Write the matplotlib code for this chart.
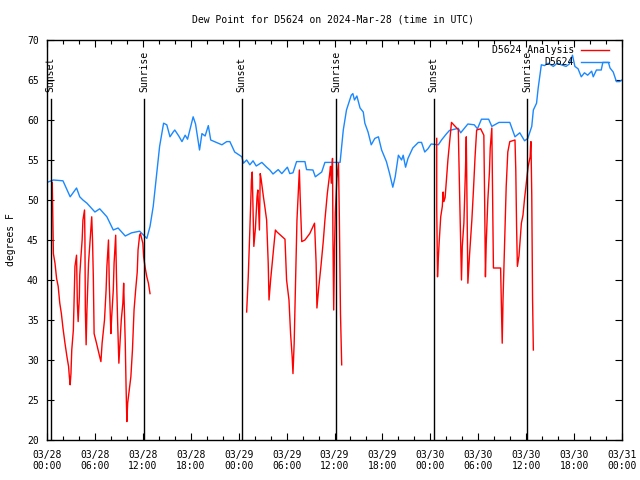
import matplotlib
matplotlib.use("Agg")
import matplotlib.pyplot as plt
from matplotlib.lines import Line2D

# Hours since 2024-03-28 00:00 UTC
obs_hours = [0.0, 0.8, 2.0, 2.9, 3.7, 4.1, 4.5, 5.0, 6.0, 6.6, 7.5, 8.3, 8.9, 9.8, 10.6, 11.6, 12.5,
             12.9, 13.3, 13.7, 14.1, 14.6, 15.0, 15.4, 15.8, 16.0, 16.5, 16.9, 17.3, 17.6, 18.3, 18.6,
             19.1, 19.4, 19.8, 20.2, 20.5, 21.2, 21.9, 22.5, 22.9, 23.5, 24.4, 24.6, 25.0, 25.4, 25.8,
             26.2, 26.9, 27.5, 27.9, 28.3, 28.95, 29.4, 30.1, 30.4, 30.8, 31.25, 32.3, 32.5, 33.3,
             33.6, 34.4, 34.8, 36.7, 37.1, 37.5, 38.1, 38.3, 38.5, 38.8, 39.2, 39.6, 39.8, 40.2, 40.6,
             41.05, 41.5, 41.9, 42.5, 42.9, 43.3, 43.6, 44.0, 44.4, 44.6, 44.9, 45.2, 45.8, 46.5,
             46.9, 47.3, 47.7, 48.1, 49.0, 49.4, 50.0, 50.4, 51.5, 51.8, 52.7, 53.5, 53.9, 54.4,
             55.3, 55.7, 56.6, 57.95, 58.6, 59.2, 59.8, 60.2, 60.7, 60.9, 61.3, 61.5, 61.9, 62.3,
             62.75, 63.4, 63.9, 64.4, 65.0, 65.4, 65.8, 66.1, 66.5, 66.9, 67.3, 67.7, 68.2, 68.4,
             68.8, 69.4, 69.6, 70.3, 70.5, 70.9, 71.3, 71.7, 72.0]
obs_dewpt = [52.2, 52.5, 52.4, 50.4, 51.5, 50.4, 50.0, 49.6, 48.5, 48.9, 47.9, 46.25, 46.5, 45.5, 45.9, 46.1, 45.2,
             46.7, 49.2, 52.9, 56.7, 59.6, 59.4, 57.9, 58.5, 58.75, 58.0, 57.3, 58.1, 57.6, 60.4, 59.5,
             56.25, 58.3, 58.0, 59.3, 57.5, 57.2, 56.9, 57.3, 57.3, 56.0, 55.4, 54.6, 55.0, 54.4, 54.9,
             54.25, 54.7, 54.1, 53.75, 53.25, 53.8, 53.3, 54.1, 53.3, 53.4, 54.8, 54.8, 53.8, 53.75,
             52.9, 53.5, 54.7, 54.7, 58.75, 61.25, 63.1, 63.3, 62.5, 63.0, 61.5, 61.0, 59.6, 58.5, 56.9,
             57.7, 57.9, 56.25, 54.8, 53.3, 51.6, 52.9, 55.6, 55.0, 55.6, 54.1, 55.2, 56.5, 57.2,
             57.2, 56.0, 56.4, 57.0, 56.9, 57.5, 58.25, 58.7, 58.96, 58.4, 59.5, 59.4, 58.9, 60.1,
             60.1, 59.2, 59.7, 59.7, 57.9, 58.4, 57.4, 57.7, 59.2, 61.25, 62.1, 63.96, 66.9, 66.8,
             67.1, 66.7, 67.1, 66.9, 66.7, 67.0, 68.1, 66.7, 66.4, 65.4, 65.9, 65.6, 66.1, 65.4,
             66.25, 66.25, 67.2, 67.2, 66.5, 66.0, 64.8, 64.8, 65.0]

an1_hours = [0.66, 0.8, 1.0, 1.2, 1.4, 1.6, 1.8, 2.0, 2.25, 2.5, 2.7, 2.8, 2.9, 3.0, 3.1, 3.3, 3.5, 3.7,
             3.8, 3.9, 4.05, 4.1, 4.25, 4.4, 4.5, 4.7, 4.75, 4.8, 4.9, 5.0, 5.2, 5.4, 5.6, 5.7, 5.8,
             5.9, 6.2, 6.4, 6.6, 6.75, 6.9, 7.2, 7.4, 7.5, 7.7, 7.8, 8.0, 8.1, 8.3, 8.4, 8.6, 8.7,
             8.85, 9.0, 9.3, 9.5, 9.6, 9.8, 9.9, 10.0, 10.1, 10.3, 10.5, 10.7, 10.9, 11.1, 11.3,
             11.4, 11.6, 11.7, 11.85, 12.0, 12.1, 12.3, 12.5, 12.7, 12.9]
an1_dewpt = [52.2, 43.3, 42.1, 40.2, 39.2, 37.1, 35.8, 34.0, 32.1, 30.4, 29.2, 27.9, 26.9, 28.3, 31.25, 33.75, 41.7, 43.1,
             37.1, 34.8, 37.9, 40.6, 42.9, 45.0, 47.5, 48.75, 45.0, 36.25, 31.9, 36.25, 42.1, 45.0, 47.9, 45.0, 40.4,
             33.3, 32.1, 31.25, 30.4, 29.8, 32.1, 35.0, 38.75, 41.7, 45.0, 39.6, 33.3, 35.4, 38.75, 42.1, 45.6, 40.4,
             34.6, 29.6, 35.0, 37.1, 39.6, 32.1, 26.7, 22.3, 24.6, 26.25, 27.9, 31.25, 36.25, 38.75, 41.0,
             43.75, 45.6, 45.8, 45.2, 44.6, 42.9, 41.5, 40.4, 39.6, 38.3]

an2_hours = [25.0, 25.2, 25.4, 25.6, 25.7, 25.8, 25.9, 26.1, 26.3, 26.4, 26.6, 26.7, 26.8, 27.1, 27.3, 27.5,
             27.7, 27.8, 28.0, 28.2, 28.4, 28.6, 28.8, 29.8, 30.0, 30.3, 30.5, 30.7, 30.8, 30.95, 31.1,
             31.3, 31.6, 31.7, 31.9, 32.3, 32.9, 33.5, 33.7, 33.8, 34.0, 34.3, 34.6, 34.8, 35.1, 35.4,
             35.5, 35.6, 35.75, 35.8, 35.9, 36.0, 36.1, 36.3, 36.5, 36.6, 36.75, 36.9]
an2_dewpt = [36.0, 40.4, 46.25, 52.5, 53.5, 48.8, 44.2, 46.5, 50.4, 51.25, 46.25, 53.3, 52.7, 50.4, 49.0, 47.5,
             42.1, 37.5, 40.0, 42.1, 44.2, 46.25, 46.0, 45.1, 40.0, 37.5, 33.3, 30.4, 28.3, 32.1, 38.75,
             47.5, 53.75, 50.4, 44.8, 45.0, 45.8, 47.1, 42.1, 36.5, 38.8, 41.7, 44.9, 47.5, 50.8, 53.3,
             54.2, 52.1, 55.2, 45.8, 36.25, 44.0, 48.4, 52.7, 54.6, 48.3, 35.8, 29.4]

an3_hours = [48.8, 48.8, 48.9, 49.0, 49.1, 49.3, 49.5, 49.6, 49.7, 49.85, 50.0, 50.2, 50.4, 50.65, 51.3,
             51.5, 51.7, 51.9, 52.0, 52.2, 52.4, 52.5, 52.6, 52.7, 52.9, 53.2, 53.4, 53.6, 53.8, 54.3,
             54.7, 54.8, 54.9, 55.0, 55.2, 55.4, 55.5, 55.7, 55.9, 56.8, 56.9, 57.0, 57.1, 57.3, 57.5,
             57.7, 57.95, 58.6, 58.7, 58.8, 58.9, 59.1, 59.4, 59.6, 59.8, 59.95, 60.1, 60.25, 60.5,
             60.55, 60.6, 60.7, 60.8, 60.9]
an3_dewpt = [57.7, 49.0, 40.4, 42.7, 44.6, 47.9, 49.2, 51.0, 49.8, 50.3, 52.3, 55.0, 57.1, 59.7, 59.0,
             58.8, 49.2, 40.0, 44.2, 47.1, 53.75, 57.9, 49.0, 39.6, 43.0, 47.5, 51.25, 55.4, 58.75, 58.9,
             58.1, 50.0, 40.4, 44.6, 50.0, 53.5, 56.5, 59.0, 41.5, 41.5, 36.7, 32.1, 37.5, 44.6, 51.7,
             56.0, 57.3, 57.5, 53.75, 46.7, 41.7, 43.0, 47.1, 48.1, 50.2, 51.5, 52.9, 54.2, 55.4,
             56.7, 57.3, 50.6, 37.7, 31.25]

sun_hours = [0.46, 12.17, 24.4, 36.2, 48.4, 60.1]
sun_labels = ["Sunset", "Sunrise", "Sunset", "Sunrise", "Sunset", "Sunrise"]
sun_line_top = 62.6

xtick_hours = [0, 6, 12, 18, 24, 30, 36, 42, 48, 54, 60, 66, 72]
xtick_labels = ["03/28\n00:00", "03/28\n06:00", "03/28\n12:00", "03/28\n18:00",
                "03/29\n00:00", "03/29\n06:00", "03/29\n12:00", "03/29\n18:00",
                "03/30\n00:00", "03/30\n06:00", "03/30\n12:00", "03/30\n18:00",
                "03/31\n00:00"]

plt.rcParams['font.family'] = ['DejaVu Sans Mono']
FS = 7

fig = plt.figure(figsize=(6.4, 4.8), dpi=100)
ax = fig.add_axes([47/640, 40/480, 575/640, 400/480])

red = '#ff0000'
blue = '#1a88ff'

for h, d in [(an1_hours, an1_dewpt), (an2_hours, an2_dewpt), (an3_hours, an3_dewpt)]:
    ax.plot(h, d, color=red, lw=1.0, zorder=3)
ax.plot(obs_hours, obs_dewpt, color=blue, lw=1.0, zorder=2)

for h, lab in zip(sun_hours, sun_labels):
    ax.plot([h, h], [20, sun_line_top], color='black', lw=1.0, zorder=4)
    ax.text(h, sun_line_top + 0.9, lab, rotation=90, ha='center', va='bottom',
            fontsize=FS, color='black')

ax.set_xlim(0, 72)
ax.set_ylim(20, 70)
ax.set_xticks(xtick_hours)
ax.set_xticklabels(xtick_labels, fontsize=FS)
ax.set_xticks(range(0, 73, 2), minor=True)
ax.set_yticks(range(20, 71, 5))
ax.set_yticklabels([str(v) for v in range(20, 71, 5)], fontsize=FS)
ax.tick_params(axis='both', which='major', direction='in', length=5, width=0.8,
               top=True, right=True, pad=6)
ax.tick_params(axis='both', which='minor', direction='in', length=3, width=0.8,
               top=True, right=True)
ax.tick_params(axis='x', which='major', pad=7)
for s in ax.spines.values():
    s.set_linewidth(1.0)

ax.set_ylabel("degrees F", fontsize=FS, labelpad=8)
fig.text(0.52, 0.96, "Dew Point for D5624 on 2024-Mar-28 (time in UTC)",
         ha='center', va='center', fontsize=FS)

# gnuplot-style key
ax.text(0.9165, 0.975, "D5624 Analysis", transform=ax.transAxes, ha='right', va='center', fontsize=FS)
ax.text(0.9165, 0.945, "D5624", transform=ax.transAxes, ha='right', va='center', fontsize=FS)
ax.add_line(Line2D([0.9287, 0.977], [0.975, 0.975], transform=ax.transAxes, color=red, lw=1.0))
ax.add_line(Line2D([0.9287, 0.977], [0.945, 0.945], transform=ax.transAxes, color=blue, lw=1.0))

fig.savefig("out.png", dpi=100)
